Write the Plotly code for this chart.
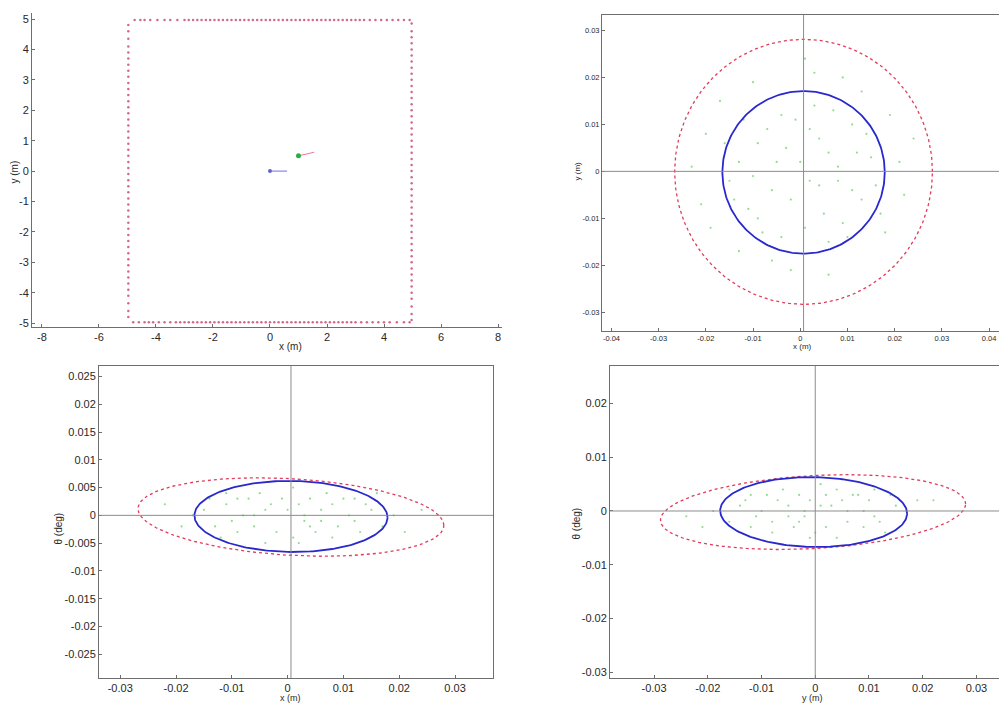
import numpy as np
import plotly.graph_objects as go

# ---------------- data ----------------
# Top-left: landmark map (walls of a 10 m square) and robot poses
wall_top_x = [-4.75, -4.55, -4.4, -4.2, -3.95, -3.7, -3.5, -3.25, -3.0, -2.85, -2.7, -2.55, -2.4, -2.25,
              -2.1, -1.95, -1.8, -1.65, -1.5, -1.35, -1.2, -1.05, -0.9, -0.75, -0.6, -0.45, -0.3, -0.15,
              0.0, 0.15, 0.3, 0.45, 0.6, 0.75, 0.9, 1.05, 1.2, 1.35, 1.5, 1.65, 1.8, 1.95, 2.1, 2.25,
              2.4, 2.55, 2.7, 2.85, 3.0, 3.15, 3.3, 3.5, 3.7, 3.9, 4.1, 4.3, 4.5, 4.7, 4.9]
wall_bottom_x = [-4.8, -4.6, -4.4, -4.25, -4.1, -3.9, -3.7, -3.5, -3.3, -3.15, -3.0, -2.85, -2.7, -2.55,
                 -2.4, -2.25, -2.1, -1.95, -1.8, -1.65, -1.5, -1.35, -1.2, -1.05, -0.9, -0.75, -0.6,
                 -0.45, -0.3, -0.15, 0.0, 0.15, 0.3, 0.45, 0.6, 0.75, 0.9, 1.05, 1.2, 1.35, 1.5, 1.65,
                 1.8, 1.95, 2.1, 2.25, 2.4, 2.55, 2.7, 2.85, 3.0, 3.2, 3.4, 3.6, 3.8, 4.0, 4.2, 4.45, 4.7, 4.9]
wall_left_y = [4.8, 4.6, 4.35, 4.1, 3.9, 3.7, 3.5, 3.3, 3.1, 2.9, 2.7, 2.5, 2.3, 2.1, 1.9, 1.7, 1.5,
               1.3, 1.1, 0.9, 0.7, 0.5, 0.3, 0.1, -0.1, -0.3, -0.5, -0.7, -0.9, -1.1, -1.3, -1.5, -1.7,
               -1.9, -2.1, -2.3, -2.5, -2.7, -2.9, -3.1, -3.3, -3.5, -3.7, -3.9, -4.1, -4.35, -4.6, -4.8]
wall_right_y = [4.85, 4.6, 4.4, 4.2, 4.0, 3.8, 3.6, 3.4, 3.2, 3.0, 2.8, 2.6, 2.4, 2.2, 2.0, 1.8, 1.6,
                1.4, 1.2, 1.0, 0.8, 0.6, 0.4, 0.2, 0.0, -0.2, -0.4, -0.6, -0.8, -1.0, -1.2, -1.4, -1.6,
                -1.8, -2.0, -2.2, -2.4, -2.6, -2.8, -3.0, -3.2, -3.4, -3.6, -3.8, -4.0, -4.2, -4.45,
                -4.7, -4.9]
wall_pos = 4.97
robot_true_x = [0.0, 0.6]
robot_true_y = [0.0, 0.0]
robot_est_x = [1.0, 1.55]
robot_est_y = [0.5, 0.62]

# Estimation errors (x, y) in metres
err_xy = [(0.002, 0.009), (-0.004, 0.012), (0.006, 0.004), (-0.009, 0.006), (0.011, 0.010),
          (-0.013, 0.002), (0.004, -0.003), (-0.002, -0.006), (0.008, -0.002), (-0.006, -0.004),
          (0.013, -0.006), (-0.011, -0.008), (0.001, -0.012), (0.009, -0.011), (-0.008, -0.013),
          (0.015, 0.003), (-0.015, -0.002), (0.003, 0.014), (-0.005, 0.002), (0.007, 0.013),
          (0.012, 0.004), (-0.012, 0.011), (0.005, -0.009), (-0.003, 0.005), (0.010, -0.014),
          (-0.010, -0.001), (0.000, 0.002), (0.016, -0.003), (-0.016, 0.006), (0.006, -0.015),
          (-0.007, 0.009), (0.002, -0.002), (0.014, 0.008), (-0.014, -0.006), (0.008, 0.001),
          (-0.001, 0.011), (0.004, 0.007), (-0.009, -0.010), (0.011, -0.004), (-0.004, -0.014),
          (0.019, 0.012), (-0.020, 0.008), (0.022, -0.005), (-0.021, -0.007), (0.003, 0.021),
          (-0.002, -0.021), (0.018, -0.013), (-0.017, 0.015), (0.021, 0.002), (-0.019, -0.012),
          (0.009, 0.020), (-0.010, 0.019), (0.024, 0.007), (-0.023, 0.001), (0.001, 0.024),
          (0.006, -0.022), (-0.006, -0.019), (0.013, 0.017), (-0.013, -0.017), (0.017, -0.009)]
# Errors (x, theta)
err_xt = [(0.002, 0.002), (-0.004, 0.001), (0.006, -0.001), (-0.009, 0.003), (0.011, 0.000),
          (-0.013, -0.002), (0.004, 0.003), (-0.002, -0.003), (0.008, 0.002), (-0.006, -0.002),
          (0.013, -0.003), (-0.011, 0.002), (0.001, -0.004), (0.009, -0.002), (-0.008, 0.000),
          (0.015, 0.001), (-0.015, 0.001), (0.003, 0.000), (-0.005, 0.004), (0.007, 0.004),
          (0.012, -0.001), (-0.012, -0.004), (0.005, -0.003), (-0.003, 0.002), (0.010, 0.003),
          (-0.010, -0.001), (0.000, 0.001), (0.017, -0.002), (-0.017, 0.000), (0.006, 0.001),
          (-0.007, 0.003), (0.002, -0.005), (0.014, 0.002), (-0.014, 0.003), (0.019, 0.000),
          (-0.001, 0.003), (0.004, -0.002), (-0.009, -0.003), (0.021, -0.003), (-0.019, -0.002),
          (0.024, 0.001), (-0.022, 0.002), (0.001, 0.005), (-0.004, -0.005), (0.016, 0.004),
          (-0.006, 0.000), (0.003, -0.001), (0.008, -0.004), (-0.011, 0.004), (0.012, 0.003)]
# Errors (y, theta)
err_yt = [(-0.001, 0.002), (0.003, 0.001), (-0.005, -0.001), (0.008, 0.003), (-0.010, 0.000),
          (0.012, -0.002), (-0.003, 0.003), (0.002, -0.003), (-0.007, 0.002), (0.006, -0.002),
          (-0.012, -0.003), (0.010, 0.002), (0.000, -0.004), (-0.008, -0.002), (0.009, 0.000),
          (-0.014, 0.001), (0.015, 0.001), (-0.002, 0.000), (0.004, 0.004), (-0.006, 0.004),
          (-0.011, -0.001), (0.013, -0.004), (-0.004, -0.003), (0.005, 0.002), (-0.009, 0.003),
          (0.011, -0.001), (0.001, 0.001), (-0.016, -0.002), (0.017, 0.000), (-0.005, 0.001),
          (0.007, 0.003), (-0.001, -0.005), (-0.013, 0.002), (0.014, 0.003), (-0.019, 0.000),
          (0.002, 0.003), (-0.003, -0.002), (0.009, -0.003), (-0.021, -0.003), (0.019, 0.002),
          (-0.024, -0.001), (0.022, 0.002), (0.001, 0.005), (0.004, -0.005), (-0.016, 0.004),
          (0.006, 0.000), (-0.002, -0.001), (-0.008, -0.004), (0.011, 0.004), (-0.012, 0.003)]

# Ellipse parameters: centre x, centre y, semi-axis x, semi-axis y, shear
ell_xy_blue = (0.0007, -0.0002, 0.0172, 0.0173, 0.0)
ell_xy_red = (0.0007, -0.0001, 0.0273, 0.0282, 0.0)
ell_xt_blue = (0.0006, -0.0002, 0.0173, 0.0064, -0.01)
ell_xt_red = (0.0006, -0.0003, 0.0274, 0.0069, -0.055)
ell_yt_blue = (-0.0003, -0.0002, 0.0174, 0.0065, -0.015)
ell_yt_red = (-0.0004, -0.0002, 0.0284, 0.0068, 0.053)

# Tick labels
tl_xticks = [-8, -6, -4, -2, 0, 2, 4, 6, 8]
tl_yticks = [-5, -4, -3, -2, -1, 0, 1, 2, 3, 4, 5]
tr_xticks = [-0.04, -0.03, -0.02, -0.01, 0, 0.01, 0.02, 0.03, 0.04]
tr_yticks = [-0.03, -0.02, -0.01, 0, 0.01, 0.02, 0.03]
bl_xticks = [-0.03, -0.02, -0.01, 0, 0.01, 0.02, 0.03]
bl_yticks = [-0.025, -0.02, -0.015, -0.01, -0.005, 0, 0.005, 0.01, 0.015, 0.02, 0.025]
br_xticks = [-0.03, -0.02, -0.01, 0, 0.01, 0.02, 0.03]
br_yticks = [-0.03, -0.02, -0.01, 0, 0.01, 0.02]


def lab(v):
    return "%g" % v


def ellipse(p):
    cx, cy, a, b, k = p
    t = np.linspace(0, 2 * np.pi, 240)
    dx = a * np.cos(t)
    return cx + dx, cy + b * np.sin(t) + k * dx


W, H = 999, 704


def dom_x(p0, p1):
    return [p0 / W, min(p1 / W, 1.0)]


def dom_y(p0, p1):
    return [1 - p1 / H, 1 - p0 / H]


fig = go.Figure()
RED = "rgb(225,60,90)"
BLUE = "rgb(40,40,205)"
GREEN = "rgb(120,210,120)"
WALL = "rgb(200,80,120)"

# ---- top-left ----
for xs, ys in [(wall_top_x, [wall_pos] * len(wall_top_x)),
               (wall_bottom_x, [-wall_pos] * len(wall_bottom_x)),
               ([-wall_pos] * len(wall_left_y), wall_left_y),
               ([wall_pos] * len(wall_right_y), wall_right_y)]:
    fig.add_trace(go.Scatter(x=xs, y=ys, mode="markers",
                             marker=dict(size=2.5, color=WALL, opacity=0.85), xaxis="x", yaxis="y"))
fig.add_trace(go.Scatter(x=robot_true_x, y=robot_true_y, mode="lines",
                         line=dict(color="rgb(110,110,225)", width=1), xaxis="x", yaxis="y"))
fig.add_trace(go.Scatter(x=robot_true_x[:1], y=robot_true_y[:1], mode="markers",
                         marker=dict(size=4, color="rgb(100,100,200)"), xaxis="x", yaxis="y"))
fig.add_trace(go.Scatter(x=robot_est_x, y=robot_est_y, mode="lines",
                         line=dict(color="rgb(240,120,150)", width=1), xaxis="x", yaxis="y"))
fig.add_trace(go.Scatter(x=robot_est_x[:1], y=robot_est_y[:1], mode="markers",
                         marker=dict(size=5, color="rgb(50,170,70)"), xaxis="x", yaxis="y"))

# ---- other three panels ----
panels = [
    ("x2", "y2", err_xy, ell_xy_blue, ell_xy_red),
    ("x3", "y3", err_xt, ell_xt_blue, ell_xt_red),
    ("x4", "y4", err_yt, ell_yt_blue, ell_yt_red),
]
for xa, ya, pts, eb, er in panels:
    px = [p[0] for p in pts]
    py = [p[1] for p in pts]
    fig.add_trace(go.Scatter(x=px, y=py, mode="markers",
                             marker=dict(size=2.2, color=GREEN, opacity=0.8), xaxis=xa, yaxis=ya))
    ex, ey = ellipse(er)
    fig.add_trace(go.Scatter(x=ex, y=ey, mode="lines", line=dict(color=RED, width=1.3, dash="dot"),
                             xaxis=xa, yaxis=ya))
    ex, ey = ellipse(eb)
    fig.add_trace(go.Scatter(x=ex, y=ey, mode="lines", line=dict(color=BLUE, width=1.8),
                             xaxis=xa, yaxis=ya))

# crosshairs
cross = [("x2", "y2", 0.0007), ("x3", "y3", 0.0006), ("x4", "y4", 0.0)]
for xa, ya, cx in cross:
    fig.add_shape(type="line", xref=xa, yref=ya + " domain", x0=cx, x1=cx, y0=0, y1=1,
                  line=dict(color="rgb(140,140,140)", width=1))
    fig.add_shape(type="line", xref=xa + " domain", yref=ya, x0=0, x1=1, y0=0, y1=0,
                  line=dict(color="rgb(140,140,140)", width=1))

AX = "rgb(110,110,110)"


def axis(dom, rng, ticks, size, mirror=False, anchor=None):
    d = dict(domain=dom, range=rng, tickvals=ticks, ticktext=[lab(t) for t in ticks],
             ticks="inside", ticklen=3, tickcolor=AX, showline=True, linecolor=AX, linewidth=1,
             showgrid=False, zeroline=False, mirror=mirror,
             tickfont=dict(family="Liberation Sans, Arial", size=size, color="rgb(40,40,40)"))
    if anchor:
        d["anchor"] = anchor
    return d


layout = dict(
    width=W, height=H, margin=dict(l=0, r=0, t=0, b=0), showlegend=False,
    plot_bgcolor="white", paper_bgcolor="white",
    xaxis=axis(dom_x(32, 502), [-8.35, 8.14], tl_xticks, 11, anchor="y"),
    yaxis=axis(dom_y(13, 328), [-5.13, 5.2], tl_yticks, 11, anchor="x"),
    xaxis2=axis(dom_x(602, 1000), [-0.042, 0.0421], tr_xticks, 7.5, mirror=True, anchor="y2"),
    yaxis2=axis(dom_y(15, 332), [-0.034, 0.0333], tr_yticks, 7.5, anchor="x2"),
    xaxis3=axis(dom_x(99, 493), [-0.0338, 0.0368], bl_xticks, 11, mirror=True, anchor="y3"),
    yaxis3=axis(dom_y(367, 680), [-0.0293, 0.0269], bl_yticks, 11, mirror=True, anchor="x3"),
    xaxis4=axis(dom_x(610, 1000), [-0.0382, 0.0342], br_xticks, 11, mirror=True, anchor="y4"),
    yaxis4=axis(dom_y(367, 680), [-0.0311, 0.027], br_yticks, 11, anchor="x4"),
)
fig.update_layout(**layout)

labels = [
    ("x (m)", 290, 347, 0, 10),
    ("x (m)", 802, 347, 0, 8),
    ("x (m)", 290, 700, 0, 9),
    ("y (m)", 812, 700, 0, 9),
    ("y (m)", 15, 173, -90, 10),
    ("y (m)", 578, 172, -90, 8),
    ("θ (deg)", 58, 530, -90, 10),
    ("θ (deg)", 577, 525, -90, 10),
]
for text, px_, py_, ang, sz in labels:
    fig.add_annotation(text=text, x=px_ / W, y=1 - py_ / H, xref="paper", yref="paper",
                       showarrow=False, textangle=ang, xanchor="center", yanchor="middle",
                       font=dict(family="Liberation Sans, Arial", size=sz, color="rgb(40,40,40)"))

fig.write_html("out.html")
